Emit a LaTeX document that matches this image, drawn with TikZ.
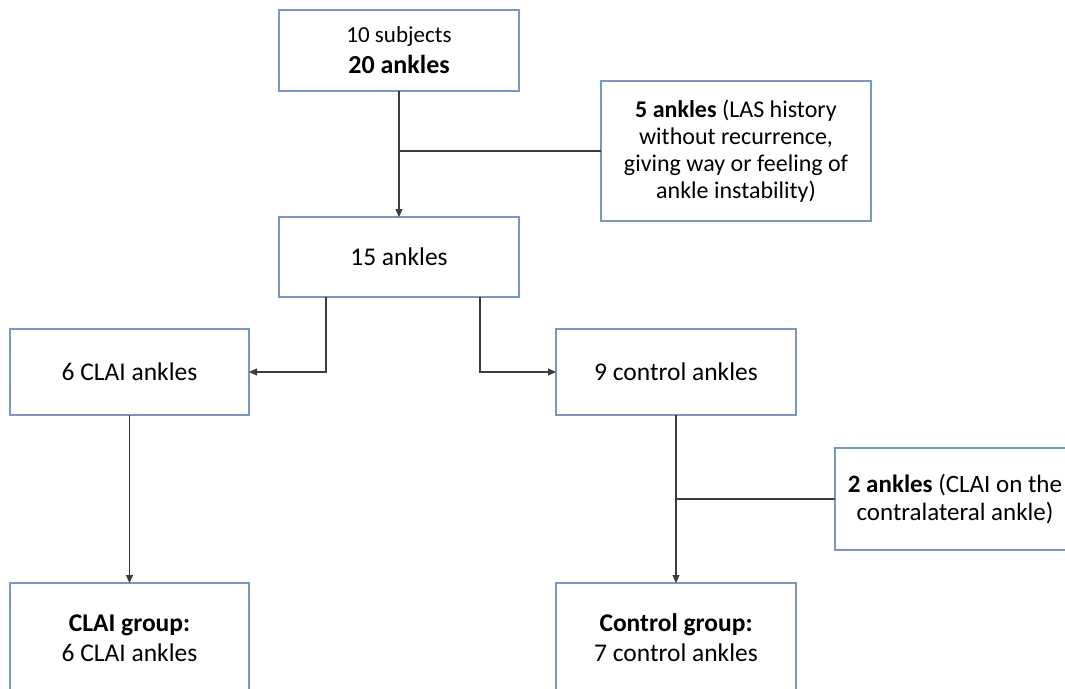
\documentclass[tikz,border=0pt]{standalone}
\usepackage{fontspec}
\setmainfont{Carlito}
\usetikzlibrary{arrows.meta}
\definecolor{boxline}{RGB}{120,150,200}
\definecolor{linkline}{RGB}{60,60,60}

\begin{document}
\begin{tikzpicture}[x=1pt,y=-1pt]
   \tikzset{BoxStyle/.style={draw=boxline, line width=1.2pt, fill=white, align=center,
      inner sep=0pt, outer sep=0pt, minimum width=240pt,
      font=\fontsize{25.5}{30}\selectfont}}
   \tikzset{NoteStyle/.style={BoxStyle, font=\fontsize{24}{27}\selectfont}}
   \tikzset{EdgeStyle/.style={draw=linkline, line width=1.1pt, -{Triangle[length=8pt,width=7pt]}}}
   \tikzset{LinkStyle/.style={draw=linkline, line width=1.1pt}}
   \useasboundingbox (0,0) rectangle (1065,688);
   \clip (0,0) rectangle (1065,688);
   \fill[white] (0,0) rectangle (1065,688);
   \node[BoxStyle, minimum height=81pt, font=\fontsize{26}{31}\selectfont] (subjects) at (399,50.5)
      {{\fontsize{23}{31}\selectfont 10 subjects}\\\textbf{20 ankles}};
   \node[NoteStyle, minimum width=270pt, minimum height=140pt] (excluded) at (736,151)
      {\textbf{5 ankles} (LAS history\\without recurrence,\\giving way or feeling of\\ankle instability)};
   \node[BoxStyle, minimum height=80pt] (fifteen) at (399,257) {15 ankles};
   \node[BoxStyle, minimum width=239pt, minimum height=86pt] (clai) at (129.5,372) {6 CLAI ankles};
   \node[BoxStyle, minimum height=86pt] (control) at (676,372) {9 control ankles};
   \node[NoteStyle, font=\fontsize{25}{28}\selectfont, minimum height=102pt] (contra) at (955,499)
      {\textbf{2 ankles} (CLAI on the\\contralateral ankle)};
   \node[BoxStyle, minimum width=239pt, minimum height=110pt] (claigroup) at (129.5,638) {\textbf{CLAI group:}\\6 CLAI ankles};
   \node[BoxStyle, minimum height=110pt] (controlgroup) at (676,638) {\textbf{Control group:}\\7 control ankles};
   \draw[EdgeStyle] (subjects.south) -- (fifteen.north);
   \draw[LinkStyle] (excluded.west) -- (excluded.west -| subjects.south);
   \draw[EdgeStyle] ([xshift=-73pt]fifteen.south) |- (clai.east);
   \draw[EdgeStyle] ([xshift=81pt]fifteen.south) |- (control.west);
   \draw[EdgeStyle] (clai.south) -- (claigroup.north);
   \draw[EdgeStyle] (control.south) -- (controlgroup.north);
   \draw[LinkStyle] (contra.west) -- (contra.west -| control.south);
\end{tikzpicture}
\end{document}
